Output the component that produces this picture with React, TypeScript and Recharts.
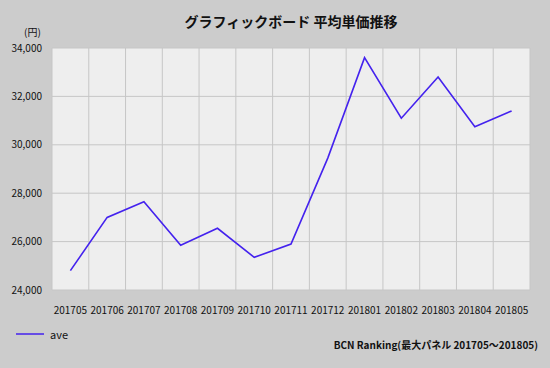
import React from 'react';
import { LineChart, Line, XAxis, YAxis, CartesianGrid, Legend } from 'recharts';

const categories = ['201705', '201706', '201707', '201708', '201709', '201710', '201711', '201712', '201801', '201802', '201803', '201804', '201805'];
const aveValues = [24800, 27000, 27650, 25850, 26550, 25350, 25900, 29450, 33600, 31100, 32800, 30750, 31400];
const yTicks = [24000, 26000, 28000, 30000, 32000, 34000];

const data = categories.map((c, i) => ({ idx: i, label: c, ave: aveValues[i] }));
const xTicks = categories.map((_, i) => i);
const boundaries = [...categories.map((_, i) => i - 0.5), categories.length - 0.5];

const FONT = '"Noto Sans CJK JP", "Noto Sans", sans-serif';
const LINE_COLOR = '#4422ee';

const LegendContent = () => (
  <div style={{ display: 'flex', alignItems: 'center', fontFamily: FONT, fontSize: 11, lineHeight: '14px', color: '#111' }}>
    <svg width={30} height={6}><line x1={0} y1={3} x2={28} y2={3} stroke={LINE_COLOR} strokeWidth={1.5} /></svg>
    <span style={{ marginLeft: 4 }}>ave</span>
  </div>
);

export default function App() {
  return (
    <div style={{ position: 'absolute', left: 0, top: 0, width: 550, height: 368, background: '#cccccc', overflow: 'hidden', fontFamily: FONT }}>
      <div style={{ position: 'absolute', left: 0, width: 582, top: 12, lineHeight: '18px', textAlign: 'center', fontSize: 14, fontWeight: 'bold', color: '#111' }}>
        グラフィックボード 平均単価推移
      </div>
      <div style={{ position: 'absolute', left: 24, top: 26, lineHeight: '11px', fontSize: 10, color: '#111' }}>(円)</div>
      <div style={{ position: 'absolute', right: 12, top: 338, lineHeight: '14px', fontSize: 10, fontWeight: 'bold', color: '#111' }}>
        BCN Ranking(最大パネル 201705～201805)
      </div>
      <LineChart width={550} height={368} data={data} margin={{ top: 48, right: 20, bottom: 34, left: 0 }}>
        <CartesianGrid
          fill="#eeeeee"
          stroke="#c6c6c6"
          strokeWidth={1}
          verticalValues={boundaries}
        />
        <XAxis
          dataKey="idx"
          type="number"
          domain={[-0.5, categories.length - 0.5]}
          ticks={xTicks}
          interval={0}
          tickFormatter={(v: number) => categories[v]}
          axisLine={false}
          tickLine={false}
          tick={{ fontSize: 10, fill: '#111', fontFamily: FONT }}
          tickMargin={11}
        />
        <YAxis
          type="number"
          domain={[24000, 34000]}
          ticks={yTicks}
          tickFormatter={(v: number) => v.toLocaleString('en-US')}
          axisLine={false}
          tickLine={false}
          width={52}
          tick={{ fontSize: 10, fill: '#111', fontFamily: FONT }}
          tickMargin={4}
        />
        <Legend
          verticalAlign="bottom"
          align="left"
          content={<LegendContent />}
          wrapperStyle={{ position: 'absolute', left: 16, top: 327, width: 100 }}
        />
        <Line type="linear" dataKey="ave" stroke={LINE_COLOR} strokeWidth={1.6} dot={false} isAnimationActive={false} />
      </LineChart>
    </div>
  );
}
